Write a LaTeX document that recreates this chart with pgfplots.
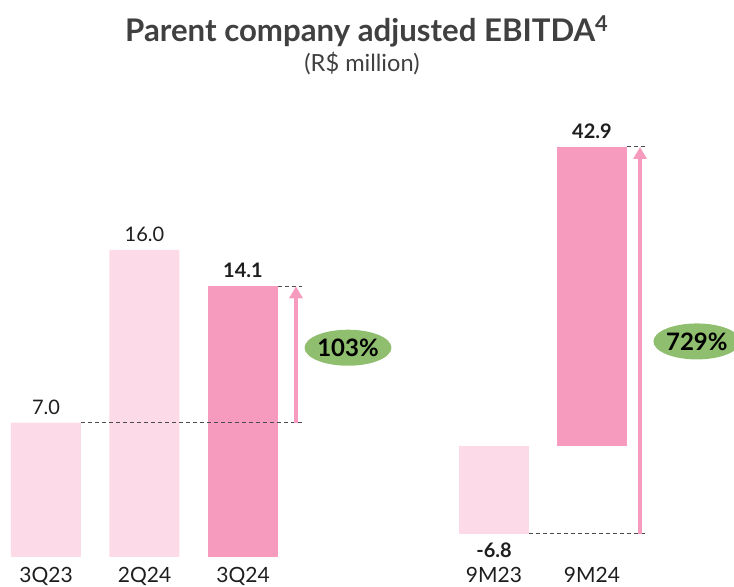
\documentclass[border=0pt]{standalone}
\usepackage{fontspec}
\setmainfont{Lato}
\usepackage{pgfplots}
\pgfplotsset{compat=1.18}
\usetikzlibrary{arrows.meta,shapes.geometric}
\definecolor{pinklight}{RGB}{252,218,232}
\definecolor{pinkdark}{RGB}{247,155,190}
\definecolor{pillgreen}{RGB}{143,190,110}
\definecolor{titlegray}{RGB}{64,64,64}
\definecolor{labelblack}{RGB}{30,30,30}

\pgfplotsset{
  barbase/.style={
    scale only axis, hide axis, ybar, bar width=35pt, clip=false,
    enlargelimits=false, xmin=-0.5, anchor=south west,
  },
  vals/.style={
    nodes near coords,
    nodes near coords style={anchor=south, inner sep=0pt, yshift=4pt,
      text=labelblack, font=#1\fontsize{10}{12}\selectfont},
    /pgf/number format/.cd, fixed, fixed zerofill, precision=1,
    assume math mode=true,
  },
}
\tikzset{
  guide/.style={draw=black!70, line width=0.5pt, dash pattern=on 2pt off 1.5pt},
  rise/.style={draw=pinkdark, line width=2pt, -{Triangle[width=6.5pt,length=6pt]}},
  pill/.style={ellipse, fill=pillgreen, minimum width=43pt, minimum height=18pt,
    inner sep=0pt, text=black, font=\bfseries\fontsize{12}{14}\selectfont},
  cat/.style={anchor=base, text=labelblack, font=\fontsize{10.5}{12}\selectfont},
}

\begin{document}
\begin{tikzpicture}
\useasboundingbox (0,0) rectangle (367pt,293.5pt);

\node[anchor=base, text=titlegray, font=\bfseries\fontsize{15.6}{18}\selectfont]
  at (183.5pt,272.5pt) {Parent company adjusted EBITDA\textsuperscript{4}};
\node[anchor=base, text=titlegray, font=\fontsize{11.8}{14}\selectfont]
  at (181pt,257.5pt) {(R\$ million)};

% quarters
\begin{axis}[barbase, at={(-1.625pt,15pt)}, width=147.75pt, height=192pt,
  xmax=2.5, ymin=0, ymax=20]
\addplot[fill=pinklight, draw=none, bar shift=0pt, vals=] coordinates {(0,7.0) (1,16.0)};
\addplot[fill=pinkdark, draw=none, bar shift=0pt, vals=\bfseries] coordinates {(2,14.1)};
\draw[guide] (axis cs:0.355,7.0) -- (axis cs:2.6,7.0);
\draw[guide] (axis cs:2.355,14.1) -- (axis cs:2.6,14.1);
\draw[rise] (axis cs:2.538,7.0) -- (axis cs:2.538,14.1);
\node[pill] at (axis cs:3.066,10.9) {103\%};
\node[cat] at (axis cs:0,0) [yshift=-13pt] {3Q23};
\node[cat] at (axis cs:1,0) [yshift=-13pt] {2Q24};
\node[cat] at (axis cs:2,0) [yshift=-13pt] {3Q24};
\end{axis}

% nine months: 9M23
\begin{axis}[barbase, at={(222.5pt,26.5pt)}, width=98pt, height=44pt,
  xmax=1.5, ymin=-6.8, ymax=0]
\addplot[fill=pinklight, draw=none, bar shift=0pt] coordinates {(0,-6.8)};
\draw[guide] (axis cs:0.357,-6.8) -- (axis cs:1.571,-6.8);
\coordinate (lo) at (axis cs:1.49,-6.8);
\node[anchor=north, inner sep=0pt, yshift=-4pt, text=labelblack,
  font=\bfseries\fontsize{10}{12}\selectfont] at (axis cs:0,-6.8) {-6.8};
\node[cat] at (axis cs:0,-6.8) [yshift=-24.5pt] {9M23};
\node[cat] at (axis cs:1,-6.8) [yshift=-24.5pt] {9M24};
\end{axis}

% nine months: 9M24
\begin{axis}[barbase, at={(222.5pt,70.5pt)}, width=98pt, height=149.5pt,
  xmax=1.5, ymin=0, ymax=42.9]
\addplot[fill=pinkdark, draw=none, bar shift=0pt, vals=\bfseries] coordinates {(1,42.9)};
\draw[guide] (axis cs:1.357,42.9) -- (axis cs:1.571,42.9);
\coordinate (hi) at (axis cs:1.49,42.9);
\node[pill] at (axis cs:2.07,15) {729\%};
\end{axis}

\draw[rise] (lo) -- (hi);
\end{tikzpicture}
\end{document}
